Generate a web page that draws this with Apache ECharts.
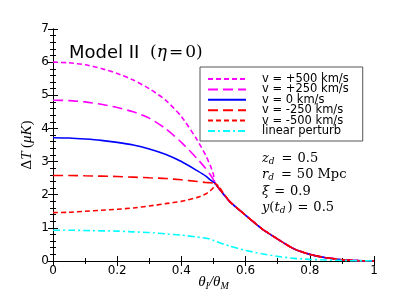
<!DOCTYPE html>
<html><head><meta charset="utf-8">
<script src="https://cdn.jsdelivr.net/npm/echarts@6/dist/echarts.min.js"></script>
<style>html,body{margin:0;padding:0;background:#fff}#c{width:415px;height:291px}</style>
</head><body><div id="c"></div>
<script>
const thetaRatio = [0, 0.05, 0.1, 0.15, 0.2, 0.25, 0.3, 0.35, 0.4, 0.45, 0.475, 0.49, 0.5, 0.505, 0.55, 0.6, 0.65, 0.7, 0.75, 0.8, 0.85, 0.9, 0.95, 1.0];
const dT_p500 = [6.0, 5.98, 5.92, 5.81, 5.66, 5.46, 5.20, 4.86, 4.36, 3.64, 3.20, 2.88, 2.60, 2.34, 1.80, 1.38, 0.98, 0.66, 0.37, 0.20, 0.10, 0.04, 0.01, 0.0];
const dT_p250 = [4.85, 4.84, 4.80, 4.73, 4.63, 4.50, 4.31, 4.00, 3.58, 3.08, 2.80, 2.60, 2.45, 2.34, 1.80, 1.38, 0.98, 0.66, 0.37, 0.20, 0.10, 0.04, 0.01, 0.0];
const dT_0    = [3.72, 3.71, 3.68, 3.64, 3.58, 3.50, 3.38, 3.22, 3.00, 2.72, 2.57, 2.45, 2.38, 2.34, 1.80, 1.38, 0.98, 0.66, 0.37, 0.20, 0.10, 0.04, 0.01, 0.0];
const dT_m250 = [2.58, 2.58, 2.57, 2.56, 2.55, 2.53, 2.51, 2.49, 2.45, 2.40, 2.37, 2.36, 2.35, 2.34, 1.80, 1.38, 0.98, 0.66, 0.37, 0.20, 0.10, 0.04, 0.01, 0.0];
const dT_m500 = [1.46, 1.47, 1.50, 1.53, 1.56, 1.60, 1.66, 1.73, 1.80, 1.92, 2.02, 2.12, 2.22, 2.34, 1.80, 1.38, 0.98, 0.66, 0.37, 0.20, 0.10, 0.04, 0.01, 0.0];
const dT_linear = [0.93, 0.93, 0.92, 0.91, 0.90, 0.88, 0.86, 0.82, 0.78, 0.72, 0.69, 0.66, 0.62, 0.60, 0.45, 0.32, 0.22, 0.14, 0.08, 0.05, 0.03, 0.015, 0.005, 0.0];
const seriesNames = ['v = +500 km/s', 'v = +250 km/s', 'v = 0 km/s', 'v = -250 km/s', 'v = -500 km/s', 'linear perturb'];
const xTicks = [0, 0.2, 0.4, 0.6, 0.8, 1];
const yTicks = [0, 1, 2, 3, 4, 5, 6, 7];

const allY = [dT_p500, dT_p250, dT_0, dT_m250, dT_m500, dT_linear];
const colors = ['#ff00ff', '#ff00ff', '#0000ff', '#ff0000', '#ff0000', '#00ffff'];
const dashes = [[5, 3], [10, 5], 'solid', [10, 5], [5, 3], [7, 3, 2, 3]];

const chart = echarts.init(document.getElementById('c'), null, {renderer: 'canvas'});
const sans = 'DejaVu Sans';
const serif = 'DejaVu Serif';
const axisCommon = {
  min: 0,
  axisLine: {show: true, lineStyle: {color: '#000', width: 1}},
  axisTick: {show: true, inside: true, length: 5, lineStyle: {color: '#000'}},
  minorTick: {show: true, length: 3, lineStyle: {color: '#000'}},
  splitLine: {show: false}
};
chart.setOption({
  animation: false,
  grid: {left: 53, right: 41, top: 29, bottom: 30, containLabel: false, outerBoundsMode: 'none'},
  title: {
    text: '{a|Model II }{b|(}{c|η}{q|=}{b|0)}',
    left: 64, top: 39,
    textStyle: {fontWeight: 'normal', rich: {
      a: {fontFamily: sans, fontSize: 18, fontWeight: 'normal', color: '#000', padding: [0, 5, 0, 0]},
      b: {fontFamily: serif, fontSize: 17, fontWeight: 'normal', color: '#000'},
      q: {fontFamily: serif, fontSize: 17, fontWeight: 'normal', color: '#000', padding: [0, 2, 0, 2]},
      c: {fontFamily: serif, fontStyle: 'italic', fontWeight: 'normal', fontSize: 17, color: '#000'}
    }}
  },
  legend: {
    orient: 'vertical', left: 200, top: 67,
    padding: [6, 14, 4, 7],
    borderColor: '#555', borderWidth: 1, backgroundColor: '#fff',
    itemWidth: 38, itemHeight: 6, itemGap: -1.6,
    itemStyle: {opacity: 0},
    textStyle: {fontFamily: sans, fontSize: 11.5, lineHeight: 9.7, color: '#000', padding: [0, 0, 0, 11]},
    data: seriesNames
  },
  xAxis: [
    Object.assign({}, axisCommon, {
      type: 'value', max: 1, interval: 0.2, minorTick: Object.assign({}, axisCommon.minorTick, {splitNumber: 2}),
      axisLabel: {fontFamily: sans, fontSize: 12, color: '#000', margin: 4,
        formatter: v => (v === 0 ? '0' : (v === 1 ? '1' : (+v).toFixed(1)))},
      name: '{t|θ}{s|I}{t|/θ}{s|M}', nameLocation: 'middle', nameGap: 12, nameMoveOverlap: false,
      nameTextStyle: {rich: {
        t: {fontFamily: 'Liberation Serif', fontStyle: 'italic', fontSize: 15, color: '#000'},
        s: {fontFamily: 'Liberation Serif', fontStyle: 'italic', fontSize: 10, color: '#000', padding: [8, 0, 0, 0]}
      }}
    }),
    Object.assign({}, axisCommon, {
      type: 'value', position: 'top', max: 1, interval: 0.2,
      minorTick: Object.assign({}, axisCommon.minorTick, {splitNumber: 2}),
      axisLabel: {show: false}
    })
  ],
  yAxis: [
    Object.assign({}, axisCommon, {
      type: 'value', max: 7, interval: 1, minorTick: Object.assign({}, axisCommon.minorTick, {splitNumber: 5}),
      axisLabel: {fontFamily: sans, fontSize: 12, color: '#000', margin: 4},
      name: '{d|Δ}{t|T} {d|(}{t|μK}{d|)}', nameLocation: 'middle', nameGap: 18, nameRotate: 90, nameMoveOverlap: false,
      nameTextStyle: {rich: {
        d: {fontFamily: 'Liberation Serif', fontSize: 15, color: '#000'},
        t: {fontFamily: 'Liberation Serif', fontStyle: 'italic', fontSize: 15, color: '#000'}
      }}
    }),
    Object.assign({}, axisCommon, {
      type: 'value', position: 'right', max: 7, interval: 1,
      minorTick: Object.assign({}, axisCommon.minorTick, {splitNumber: 5}),
      axisLabel: {show: false}
    })
  ],
  graphic: [{
    type: 'text', left: 262, top: 150,
    style: {
      text: '{i|z}{s|d}{q|=}{e|0.5}\n{i|r}{s|d}{q|=}{e|50 Mpc}\n{i|ξ}{q|=}{e|0.9}\n{i|y}{e|(}{i|t}{s|d}{e|)}{q|=}{e|0.5}',
      lineHeight: 16.5,
      rich: {
        i: {fontFamily: serif, fontStyle: 'italic', fontSize: 13, fill: '#000', lineHeight: 16.5},
        e: {fontFamily: serif, fontSize: 13, fill: '#000', lineHeight: 16.5},
        q: {fontFamily: serif, fontSize: 13, fill: '#000', lineHeight: 16.5, padding: [0, 5, 0, 5]},
        s: {fontFamily: serif, fontStyle: 'italic', fontSize: 9, fill: '#000', padding: [6, 2, 0, 0], lineHeight: 16.5}
      }
    }
  }],
  series: allY.map((ys, i) => ({
    name: seriesNames[i], type: 'line', smooth: 0.2, showSymbol: false, symbol: 'none',
    data: thetaRatio.map((x, k) => [x, ys[k]]),
    lineStyle: {color: colors[i], width: 1.6, type: dashes[i]},
    itemStyle: {color: colors[i]}
  }))
});
</script></body></html>
